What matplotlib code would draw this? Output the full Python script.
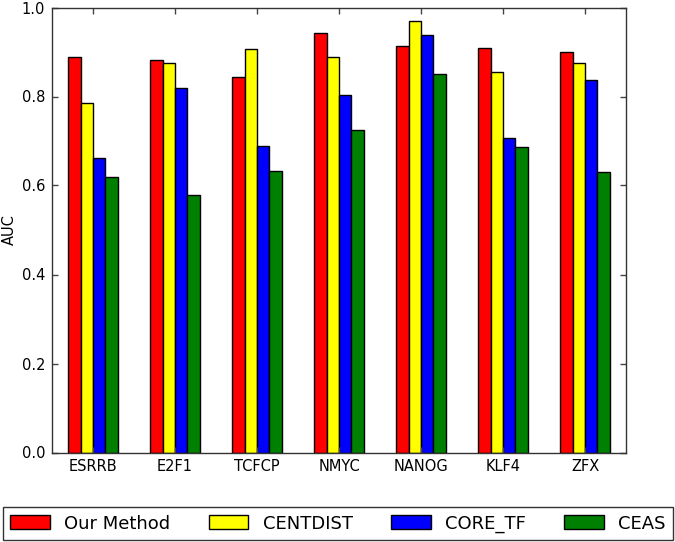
import numpy as np
import matplotlib
matplotlib.use("Agg")
import matplotlib.pyplot as plt

factors = ["ESRRB", "E2F1", "TCFCP", "NMYC", "NANOG", "KLF4", "ZFX"]
methods = ["Our Method", "CENTDIST", "CORE_TF", "CEAS"]
colors = ["red", "yellow", "blue", "green"]

our_method = [0.888, 0.882, 0.843, 0.942, 0.913, 0.910, 0.899]
centdist = [0.786, 0.876, 0.906, 0.888, 0.969, 0.854, 0.876]
core_tf = [0.662, 0.819, 0.689, 0.803, 0.939, 0.707, 0.836]
ceas = [0.619, 0.579, 0.633, 0.725, 0.850, 0.687, 0.631]
series = [our_method, centdist, core_tf, ceas]

fig = plt.figure(figsize=(6.75, 5.42), dpi=100)
ax = fig.add_axes([52 / 675, 1 - 452.5 / 542, 574 / 675, 445 / 542])

x = np.arange(len(factors))
w = 0.15
for i, (vals, c, lab) in enumerate(zip(series, colors, methods)):
    ax.bar(x - 0.3 + i * w, vals, w, align="edge", color=c,
           edgecolor="black", linewidth=1, label=lab)

ax.set_xlim(-0.5, len(factors) - 0.5)
ax.set_ylim(0, 1.0)
ax.set_xticks(x)
ax.set_xticklabels(factors, fontsize=10.5)
ax.set_yticks(np.arange(0, 1.01, 0.2))
ax.set_yticklabels([f"{v:.1f}" for v in np.arange(0, 1.01, 0.2)], fontsize=10.5)
ax.set_ylabel("AUC", fontsize=10.5)
ax.yaxis.set_label_coords(-0.062, 0.5)
ax.tick_params(direction="in", top=True, right=True, length=4, width=1,
               color="#444444", pad=5)
for s in ax.spines.values():
    s.set_color("#333333")
    s.set_linewidth(1)

fig.legend(loc="lower left", bbox_to_anchor=(3 / 675, 2 / 542, 670 / 675, 36 / 542),
           mode="expand", ncol=4, fontsize=13, frameon=True, fancybox=False,
           edgecolor="black", handlelength=2.2, handleheight=0.8,
           borderaxespad=0, borderpad=0.4)

fig.savefig("out.png", dpi=100)
